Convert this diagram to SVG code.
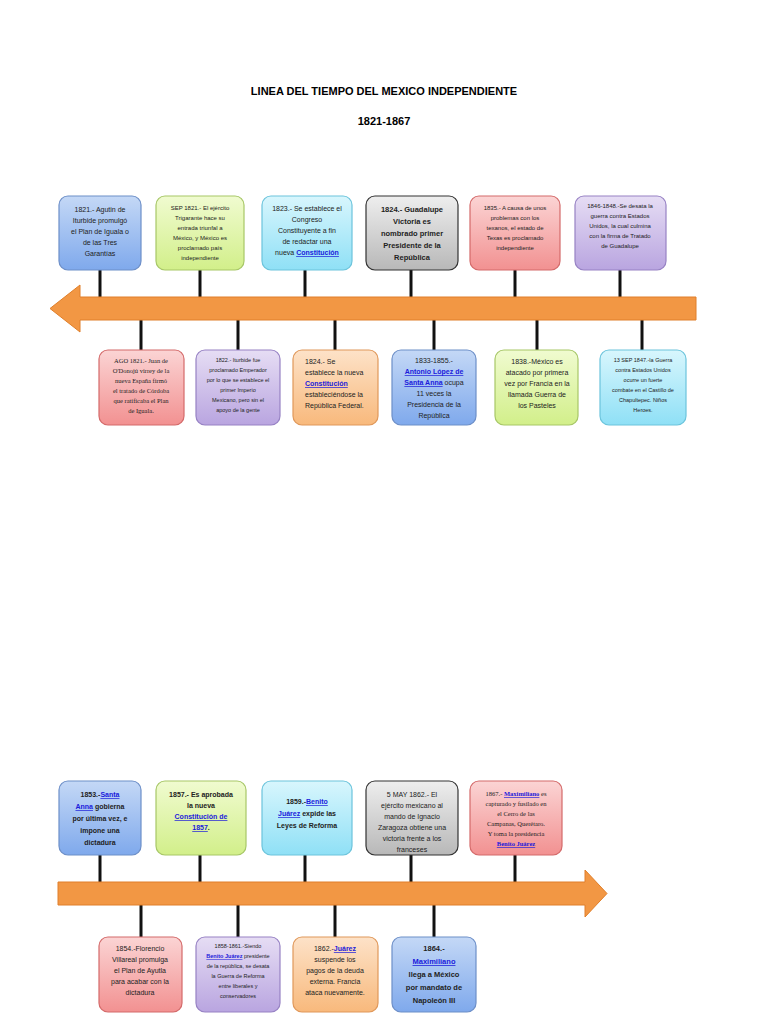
<svg xmlns="http://www.w3.org/2000/svg" width="768" height="1024" viewBox="0 0 768 1024">
<defs>
<linearGradient id="gBlue" x1="0" y1="0" x2="0" y2="1"><stop offset="0" stop-color="#c4d8f6"/><stop offset="1" stop-color="#7fa9ec"/></linearGradient>
<linearGradient id="gGreen" x1="0" y1="0" x2="0" y2="1"><stop offset="0" stop-color="#f0fbd0"/><stop offset="1" stop-color="#d2ef8a"/></linearGradient>
<linearGradient id="gCyan" x1="0" y1="0" x2="0" y2="1"><stop offset="0" stop-color="#d8f6fd"/><stop offset="1" stop-color="#8fe0f6"/></linearGradient>
<linearGradient id="gGray" x1="0" y1="0" x2="0" y2="1"><stop offset="0" stop-color="#eeeeee"/><stop offset="1" stop-color="#b8b8b8"/></linearGradient>
<linearGradient id="gRed" x1="0" y1="0" x2="0" y2="1"><stop offset="0" stop-color="#fbd4d4"/><stop offset="1" stop-color="#f29191"/></linearGradient>
<linearGradient id="gPurple" x1="0" y1="0" x2="0" y2="1"><stop offset="0" stop-color="#e6ddf4"/><stop offset="1" stop-color="#b9a5e0"/></linearGradient>
<linearGradient id="gOrange" x1="0" y1="0" x2="0" y2="1"><stop offset="0" stop-color="#fde2c8"/><stop offset="1" stop-color="#f8b97c"/></linearGradient>
</defs>
<style>
.b{stroke-width:1.2;rx:9}
.blue{fill:url(#gBlue);stroke:#6d8fc8}
.green{fill:url(#gGreen);stroke:#a7c767}
.cyan{fill:url(#gCyan);stroke:#6cc4dc}
.gray{fill:url(#gGray);stroke:#333}
.red{fill:url(#gRed);stroke:#d46a6a}
.purple{fill:url(#gPurple);stroke:#9782c4}
.orange{fill:url(#gOrange);stroke:#e0985a}
text{font-family:"Liberation Sans",Arial,sans-serif;fill:#222;text-anchor:middle}
.s{font-size:6px}.m{font-size:7px}.l{font-size:7.5px;font-weight:bold}
.sr{font-family:"Liberation Serif",serif;font-size:6.5px}
.a{fill:#1a1adb;text-decoration:underline;font-weight:bold}
.title{font-size:11px;font-weight:bold;fill:#000}
.c line{stroke:#111;stroke-width:3}
</style>
<text class="title" x="384" y="95">LINEA DEL TIEMPO DEL MEXICO INDEPENDIENTE</text>
<text class="title" x="384" y="125">1821-1867</text>

<g id="connectors" class="c">
<line x1="100" y1="270" x2="100" y2="297"/><line x1="200" y1="270" x2="200" y2="297"/><line x1="305" y1="270" x2="305" y2="297"/><line x1="411" y1="270" x2="411" y2="297"/><line x1="515" y1="270" x2="515" y2="297"/><line x1="620" y1="270" x2="620" y2="297"/>
<line x1="141" y1="320" x2="141" y2="350"/><line x1="238" y1="320" x2="238" y2="350"/><line x1="335" y1="320" x2="335" y2="350"/><line x1="434" y1="320" x2="434" y2="350"/><line x1="537" y1="320" x2="537" y2="350"/><line x1="642" y1="320" x2="642" y2="350"/>
<line x1="100" y1="855" x2="100" y2="882"/><line x1="200" y1="855" x2="200" y2="882"/><line x1="305" y1="855" x2="305" y2="882"/><line x1="411" y1="855" x2="411" y2="882"/><line x1="515" y1="855" x2="515" y2="882"/>
<line x1="141" y1="905" x2="141" y2="937"/><line x1="238" y1="905" x2="238" y2="937"/><line x1="335" y1="905" x2="335" y2="937"/><line x1="434" y1="905" x2="434" y2="937"/>
</g>
<g id="arrow1"><polygon points="696,297 80,297 80,285 50,308.5 80,332 80,320 696,320" fill="#f29744" stroke="#e07f2a" stroke-width="1"/></g>
<g id="arrow2"><polygon points="58,882 585,882 585,870 607,893.5 585,917 585,905 58,905" fill="#f29744" stroke="#e07f2a" stroke-width="1"/></g>

<g id="n1"><rect class="b blue" x="59" y="196" width="82" height="74"/><text class="m"><tspan x="100" y="212">1821.- Agutin de</tspan><tspan x="100" y="223">Iturbide promulgó</tspan><tspan x="100" y="234">el Plan de Iguala o</tspan><tspan x="100" y="245">de las Tres</tspan><tspan x="100" y="256">Garantías</tspan></text></g>
<g id="n2"><rect class="b green" x="156" y="196" width="88" height="74"/><text class="s"><tspan x="200" y="210">SEP 1821.- El ejército</tspan><tspan x="200" y="220">Trigarante hace su</tspan><tspan x="200" y="230">entrada triunfal a</tspan><tspan x="200" y="240">México, y México es</tspan><tspan x="200" y="250">proclamado país</tspan><tspan x="200" y="260">independiente</tspan></text></g>
<g id="n3"><rect class="b cyan" x="262" y="196" width="90" height="74"/><text class="m"><tspan x="307" y="211">1823.- Se establece el</tspan><tspan x="307" y="222">Congreso</tspan><tspan x="307" y="233">Constituyente a fin</tspan><tspan x="307" y="244">de redactar una</tspan><tspan x="307" y="255">nueva <tspan class="a">Constitución</tspan></tspan></text></g>
<g id="n4"><rect class="b gray" x="366" y="196" width="92" height="74"/><text class="l"><tspan x="412" y="212">1824.- Guadalupe</tspan><tspan x="412" y="224">Victoria es</tspan><tspan x="412" y="236">nombrado primer</tspan><tspan x="412" y="248">Presidente de la</tspan><tspan x="412" y="260">República</tspan></text></g>
<g id="n5"><rect class="b red" x="470" y="196" width="90" height="74"/><text class="s"><tspan x="515" y="210">1835.- A causa de unos</tspan><tspan x="515" y="220">problemas con los</tspan><tspan x="515" y="230">texanos, el estado de</tspan><tspan x="515" y="240">Texas es proclamado</tspan><tspan x="515" y="250">independiente</tspan></text></g>
<g id="n6"><rect class="b purple" x="575" y="196" width="91" height="74"/><text class="s"><tspan x="620" y="208">1846-1848.-Se desata la</tspan><tspan x="620" y="218">guerra contra Estados</tspan><tspan x="620" y="228">Unidos, la cual culmina</tspan><tspan x="620" y="238">con la firma de Tratado</tspan><tspan x="620" y="248">de Guadalupe</tspan></text></g>

<g id="n7"><rect class="b red" x="99" y="350" width="85" height="75"/><text class="sr"><tspan x="141" y="363">AGO 1821.- Juan de</tspan><tspan x="141" y="373">O'Donojú virrey de la</tspan><tspan x="141" y="383">nueva España firmó</tspan><tspan x="141" y="393">el tratado de Córdoba</tspan><tspan x="141" y="403">que ratificaba el Plan</tspan><tspan x="141" y="413">de Iguala.</tspan></text></g>
<g id="n8"><rect class="b purple" x="196" y="350" width="84" height="75"/><text class="s" style="font-size:5.5px"><tspan x="238" y="362">1822.- Iturbide fue</tspan><tspan x="238" y="372">proclamado Emperador</tspan><tspan x="238" y="382">por lo que se establece el</tspan><tspan x="238" y="392">primer Imperio</tspan><tspan x="238" y="402">Mexicano, pero sin el</tspan><tspan x="238" y="412">apoyo de la gente</tspan></text></g>
<g id="n9"><rect class="b orange" x="293" y="350" width="85" height="75"/><text class="m" style="text-anchor:start"><tspan x="305" y="364">1824.- Se</tspan><tspan x="305" y="375">establece la nueva</tspan><tspan x="305" y="386" class="a">Constitución</tspan><tspan x="305" y="397">estableciéndose la</tspan><tspan x="305" y="408">República Federal.</tspan></text></g>
<g id="n10"><rect class="b blue" x="392" y="350" width="84" height="75"/><text class="m"><tspan x="434" y="363">1833-1855.-</tspan><tspan x="434" y="374" class="a">Antonio López de</tspan><tspan x="434" y="385"><tspan class="a">Santa Anna</tspan> ocupa</tspan><tspan x="434" y="396">11 veces la</tspan><tspan x="434" y="407">Presidencia de la</tspan><tspan x="434" y="418">República</tspan></text></g>
<g id="n11"><rect class="b green" x="495" y="350" width="83" height="75"/><text class="m"><tspan x="537" y="364">1838.-México es</tspan><tspan x="537" y="375">atacado por primera</tspan><tspan x="537" y="386">vez por Francia en la</tspan><tspan x="537" y="397">llamada Guerra de</tspan><tspan x="537" y="408">los Pasteles</tspan></text></g>
<g id="n12"><rect class="b cyan" x="600" y="350" width="86" height="75"/><text class="s" style="font-size:5.5px"><tspan x="643" y="362">13 SEP 1847.-la Guerra</tspan><tspan x="643" y="372">contra Estados Unidos</tspan><tspan x="643" y="382">ocurre un fuerte</tspan><tspan x="643" y="392">combate en el Castillo de</tspan><tspan x="643" y="402">Chapultepec. Niños</tspan><tspan x="643" y="412">Heroes.</tspan></text></g>

<g id="n13"><rect class="b blue" x="59" y="781" width="82" height="74"/><text class="m" style="font-weight:bold"><tspan x="100" y="797">1853.-<tspan class="a">Santa</tspan></tspan><tspan x="100" y="809"><tspan class="a">Anna</tspan> gobierna</tspan><tspan x="100" y="821">por última vez, e</tspan><tspan x="100" y="833">impone una</tspan><tspan x="100" y="845">dictadura</tspan></text></g>
<g id="n14"><rect class="b green" x="156" y="781" width="90" height="74"/><text class="m" style="font-weight:bold"><tspan x="201" y="797">1857.- Es aprobada</tspan><tspan x="201" y="808">la nueva</tspan><tspan x="201" y="819" class="a">Constitución de</tspan><tspan x="201" y="830"><tspan class="a">1857</tspan>.</tspan></text></g>
<g id="n15"><rect class="b cyan" x="262" y="781" width="90" height="74"/><text class="m" style="font-weight:bold"><tspan x="307" y="804">1859.-<tspan class="a">Benito</tspan></tspan><tspan x="307" y="816"><tspan class="a">Juárez</tspan> expide las</tspan><tspan x="307" y="828">Leyes de Reforma</tspan></text></g>
<g id="n16"><rect class="b gray" x="366" y="781" width="92" height="74"/><text class="m"><tspan x="412" y="797">5 MAY 1862.- El</tspan><tspan x="412" y="808">ejército mexicano al</tspan><tspan x="412" y="819">mando de Ignacio</tspan><tspan x="412" y="830">Zaragoza obtiene una</tspan><tspan x="412" y="841">victoria frente a los</tspan><tspan x="412" y="852">franceses</tspan></text></g>
<g id="n17"><rect class="b red" x="470" y="781" width="92" height="74"/><text class="sr"><tspan x="516" y="796">1867.- <tspan class="a">Maximiliano</tspan> es</tspan><tspan x="516" y="806">capturado y fusilado en</tspan><tspan x="516" y="816">el Cerro de las</tspan><tspan x="516" y="826">Campanas, Querétaro.</tspan><tspan x="516" y="836">Y toma la presidencia</tspan><tspan x="516" y="846" class="a">Benito Juárez</tspan></text></g>

<g id="n18"><rect class="b red" x="99" y="937" width="83" height="75"/><text class="m"><tspan x="140" y="951">1854.-Florencio</tspan><tspan x="140" y="962">Villareal promulga</tspan><tspan x="140" y="973">el Plan de Ayutla</tspan><tspan x="140" y="984">para acabar con la</tspan><tspan x="140" y="995">dictadura</tspan></text></g>
<g id="n19"><rect class="b purple" x="196" y="937" width="84" height="75"/><text class="s" style="font-size:5.5px"><tspan x="238" y="948">1858-1861.-Siendo</tspan><tspan x="238" y="958"><tspan class="a">Benito Juárez</tspan> presidente</tspan><tspan x="238" y="968">de la república, se desata</tspan><tspan x="238" y="978">la Guerra de Reforma</tspan><tspan x="238" y="988">entre liberales y</tspan><tspan x="238" y="998">conservadores</tspan></text></g>
<g id="n20"><rect class="b orange" x="293" y="937" width="85" height="75"/><text class="m"><tspan x="335" y="951">1862.-<tspan class="a">Juárez</tspan></tspan><tspan x="335" y="962">suspende los</tspan><tspan x="335" y="973">pagos de la deuda</tspan><tspan x="335" y="984">externa. Francia</tspan><tspan x="335" y="995">ataca nuevamente.</tspan></text></g>
<g id="n21"><rect class="b blue" x="392" y="937" width="84" height="75"/><text class="l"><tspan x="434" y="951">1864.-</tspan><tspan x="434" y="964" class="a">Maximiliano</tspan><tspan x="434" y="977">llega a México</tspan><tspan x="434" y="990">por mandato de</tspan><tspan x="434" y="1003">Napoleón III</tspan></text></g>
</svg>
